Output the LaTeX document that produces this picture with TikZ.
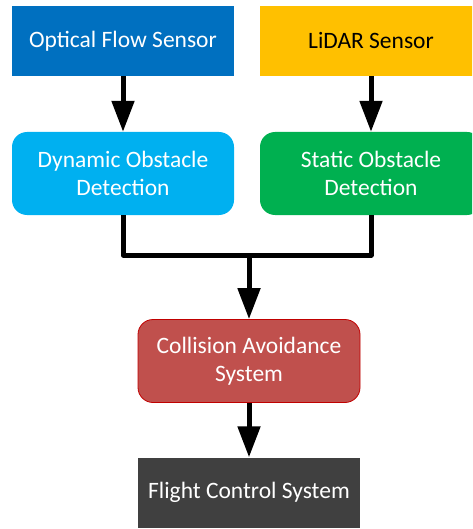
\documentclass[tikz,border=0pt]{standalone}
\usepackage{fontspec}
\setmainfont{Carlito}
\usepackage{xcolor}
\usetikzlibrary{arrows.meta}
\definecolor{ofblue}{HTML}{0070C0}
\definecolor{lidaryellow}{HTML}{FFC000}
\definecolor{dynblue}{HTML}{00B0F0}
\definecolor{statgreen}{HTML}{00B050}
\definecolor{casred}{HTML}{C0504D}
\definecolor{casedge}{HTML}{C00000}
\definecolor{fcsgray}{HTML}{404040}
\begin{document}
\begin{tikzpicture}[x=1pt,y=-1pt,
  block/.style={minimum width=222pt,inner sep=0pt,align=center,text=white,
    font=\fontsize{23.5}{28}\selectfont},
  sensor/.style={block,minimum height=70pt},
  stage/.style={block,minimum height=83pt,rounded corners=15pt},
  link/.style={line width=5pt,line join=round},
  flow/.style={link,-{Triangle[length=31pt,width=22pt]}}]
  \clip (0,0) rectangle (472,529);
  % sensors
  \node[sensor,fill=ofblue] (of) at (123,41) {Optical Flow Sensor};
  \node[sensor,fill=lidaryellow,text=black] (lidar) at (371,41) {LiDAR Sensor};
  % detection
  \node[stage,fill=dynblue] (dyn) at (123,173.5) {Dynamic Obstacle\\Detection};
  \node[stage,fill=statgreen] (stat) at (371,173.5) {Static Obstacle\\Detection};
  % avoidance and control
  \node[stage,fill=casred,draw=casedge,line width=0.8pt] (cas) at (249,361) {Collision Avoidance\\System};
  \node[sensor,fill=fcsgray] (fcs) at (249,492.5) {Flight Control System};
  \coordinate (join) at (249,255);
  \draw[flow] (of) -- (dyn);
  \draw[flow] (lidar) -- (stat);
  \draw[link] (dyn.south) |- (join) -| (stat.south);
  \draw[flow] (join) -- (cas);
  \draw[flow] (cas) -- (fcs);
\end{tikzpicture}
\end{document}
